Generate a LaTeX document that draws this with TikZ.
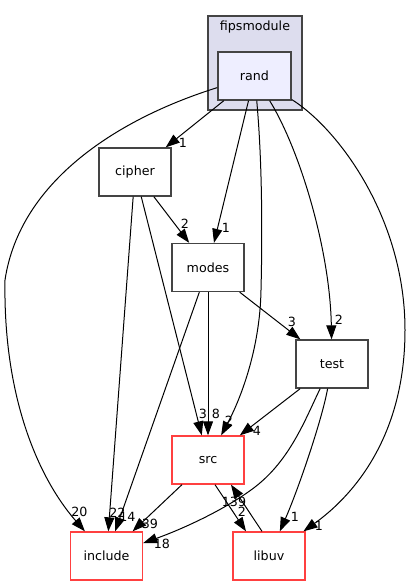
\documentclass[tikz,border=0pt]{standalone}
\usepackage{fontspec}
\setmainfont{DejaVu Sans}
\usetikzlibrary{arrows.meta,calc}
\definecolor{nodeborder}{HTML}{444444}
\definecolor{trunc}{HTML}{FF4040}
\definecolor{clusterfill}{HTML}{DDDDEE}
\definecolor{dirfill}{HTML}{EEEEFF}
\begin{document}
\begin{tikzpicture}[x=0.75pt,y=-0.75pt,
  dirnode/.style={draw=nodeborder,line width=1pt,rectangle,minimum width=54pt,minimum height=36pt,inner sep=0pt,font=\fontsize{9.5}{11}\selectfont},
  truncnode/.style={dirnode,draw=trunc},
  edge/.style={draw=black,line width=0.75pt,-{Triangle[length=10.5pt,width=7.5pt]}},
  elabel/.style={font=\fontsize{9.5}{11}\selectfont,inner sep=0pt}]
\useasboundingbox (0,0) rectangle (411,585);
% cluster
\draw[draw=nodeborder,line width=1pt,fill=clusterfill] (208,16) rectangle (302,110);
\node[font=\fontsize{9.5}{11}\selectfont] (clab) at (255,27) {fipsmodule};
% nodes
\node[dirnode,fill=dirfill,minimum width=54.75pt] (rand) at (254.5,76) {rand};
\node[dirnode,fill=white] (cipher) at (135,172) {cipher};
\node[dirnode,fill=white] (modes) at (208,267.5) {modes};
\node[dirnode,fill=white] (test) at (332,364) {test};
\node[truncnode,fill=white] (src) at (208,460) {src};
\node[truncnode,fill=white] (include) at (106.5,556) {include};
\node[truncnode,fill=white] (libuv) at (269,556) {libuv};
% edges
\draw[edge] (rand) .. controls (120,118) and (20,180) .. (5,280) .. controls (3,400) and (40,480) .. (include);
\draw[edge] (rand) -- (cipher);
\draw[edge] (rand) -- (modes);
\draw[edge] (rand) .. controls (263,170) and (262,250) .. (261,290) .. controls (260,350) and (240,400) .. (src);
\draw[edge] (rand) .. controls (300,150) and (330,250) .. (test);
\draw[edge] (rand) .. controls (340,130) and (405,220) .. (405,330) .. controls (405,440) and (350,498) .. (libuv);
\draw[edge] (cipher) -- (include);
\draw[edge] (cipher) -- (src);
\draw[edge] (cipher) -- (modes);
\draw[edge] (modes) -- (include);
\draw[edge] (modes) -- (src);
\draw[edge] (modes) -- (test);
\draw[edge] (test) -- (src);
\draw[edge] (test) .. controls (305,420) and (290,460) .. (255,487) .. controls (225,510) and (180,530) .. (include);
\draw[edge] (test) .. controls (322,420) and (298,490) .. (libuv);
\draw[edge] (src) -- (include);
\draw[edge] ($(src.south)+(7,0)$) -- ($(libuv.north)+(-23,0)$);
\draw[edge] ($(libuv.north)+(-7,0)$) -- ($(src.south)+(23,0)$);
% labels
\node[elabel] (l1) at (79.5,512) {20};
\node[elabel] (l2) at (183,143) {1};
\node[elabel] (l3) at (226,228) {1};
\node[elabel] (l4) at (229,421) {2};
\node[elabel] (l5) at (339,320) {2};
\node[elabel] (l6) at (319,526) {1};
\node[elabel] (l7) at (117.5,513) {22};
\node[elabel] (l8) at (203,414) {3};
\node[elabel] (l9) at (185,224) {2};
\node[elabel] (l10) at (127.5,517) {14};
\node[elabel] (l11) at (216,414) {8};
\node[elabel] (l12) at (292,322) {3};
\node[elabel] (l13) at (257,431) {4};
\node[elabel] (l14) at (162,544) {18};
\node[elabel] (l15) at (295,517) {1};
\node[elabel] (l16) at (150,524) {39};
\node[elabel] (l17) at (242,512) {2};
\node[elabel] (l18) at (234,502) {139};
\end{tikzpicture}
\end{document}
